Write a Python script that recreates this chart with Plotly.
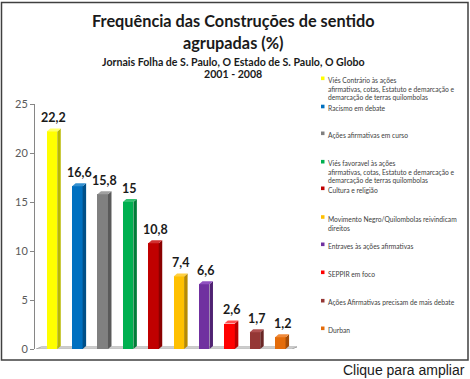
import plotly.graph_objects as go

# ---- data ----
categories = [
    "Viés Contrário às ações\nafirmativas, cotas, Estatuto e demarcação e\ndemarcação de terras quilombolas",
    "Racismo em debate",
    "Ações afirmativas em curso",
    "Viés favoravel às ações\nafirmativas, cotas, Estatuto e demarcação e\ndemarcação de terras quilombolas",
    "Cultura e religião",
    "Movimento Negro/Quilombolas reivindicam\ndireitos",
    "Entraves às ações afirmativas",
    "SEPPIR em foco",
    "Ações Afirmativas precisam de mais debate",
    "Durban",
]
values = [22.2, 16.6, 15.8, 15, 10.8, 7.4, 6.6, 2.6, 1.7, 1.2]
value_labels = ["22,2", "16,6", "15,8", "15", "10,8", "7,4", "6,6", "2,6", "1,7", "1,2"]
y_ticks = [0, 5, 10, 15, 20, 25]

colors = ["#FFFF00", "#0070C0", "#808080", "#00B050", "#C00000",
          "#FFC000", "#7030A0", "#FF0000", "#953735", "#E46C0A"]
side_colors = ["#B8B800", "#004F88", "#5A5A5A", "#007C38", "#8A0000",
               "#B88A00", "#4F2272", "#B80000", "#692625", "#A44C07"]
top_colors = ["#FFFF66", "#3390D0", "#A0A0A0", "#33C070", "#D03030",
              "#FFD040", "#9050C0", "#FF5050", "#B05050", "#F08A3A"]

W, H = 470, 379
L, R, T, B = 35, 173, 104, 30
PW, PH = W - L - R, H - T - B
xmin, xmax = -0.670, 9.657

def px2x(px):
    return (px - L) / PW

def py2y(py):
    return (H - B - py) / PH

xs = list(range(len(values)))
hw = 0.207
DX, DY = 0.138, 0.306

fig = go.Figure()
fig.add_trace(go.Bar(
    x=xs, y=values, width=2 * hw,
    marker=dict(color=colors, line=dict(width=0)),
    showlegend=False, hoverinfo="skip",
))

shapes = []
# floor
shapes.append(dict(type="path", xref="x", yref="y",
                   path=f"M {xmin+0.05},0 L {xmax-0.2},0 L {xmax},{DY*0.7} L {xmin+0.25},{DY*0.7} Z",
                   fillcolor="#E6E6E6", line=dict(color="#A6A6A6", width=1), layer="below"))
for i, v in enumerate(values):
    shapes.append(dict(type="path", xref="x", yref="y",
                       path=f"M {i+hw},0 L {i+hw+DX},{DY} L {i+hw+DX},{v+DY} L {i+hw},{v} Z",
                       fillcolor=side_colors[i], line=dict(width=0)))
    shapes.append(dict(type="path", xref="x", yref="y",
                       path=f"M {i-hw},{v} L {i-hw+DX},{v+DY} L {i+hw+DX},{v+DY} L {i+hw},{v} Z",
                       fillcolor=top_colors[i], line=dict(width=0)))

# frame
shapes.append(dict(type="rect", xref="paper", yref="paper",
                   x0=px2x(1.5), x1=px2x(468), y0=py2y(360), y1=py2y(2.5),
                   line=dict(color="#404040", width=1.5), fillcolor="rgba(0,0,0,0)"))

annotations = []
for i, (v, lab) in enumerate(zip(values, value_labels)):
    annotations.append(dict(x=i + DX / 2, y=v, xref="x", yref="y", text=f"<b>{lab}</b>",
                            showarrow=False, yanchor="middle", yshift=14,
                            font=dict(family="Lato", size=12.5, color="#1a1a1a")))

# titles
title_lines = [
    ("<b>Frequência das Construções de sentido</b>", 20.5, 16.3),
    ("<b>agrupadas (%)</b>", 42, 16.3),
    ("<b>Jornais Folha de S. Paulo, O Estado de S. Paulo, O Globo</b>", 62.5, 10.6),
    ("<b>2001 - 2008</b>", 73.5, 10.6),
]
for txt, py, fs in title_lines:
    annotations.append(dict(x=px2x(233), y=py2y(py), xref="paper", yref="paper", text=txt,
                            showarrow=False, xanchor="center", yanchor="middle",
                            font=dict(family="Lato", size=fs, color="#1a1a1a")))

# legend
legend_y = [78.3, 106.5, 133.3, 161.7, 188.3, 217, 244.3, 272.3, 300.7, 328.3]
for i, cat in enumerate(categories):
    py = legend_y[i]
    shapes.append(dict(type="rect", xref="paper", yref="paper",
                       x0=px2x(321), x1=px2x(324.5), y0=py2y(py + 1.8), y1=py2y(py - 1.8),
                       fillcolor=colors[i], line=dict(width=0)))
    annotations.append(dict(x=px2x(326), y=py2y(py - 4.3), xref="paper", yref="paper",
                            text=cat.replace("\n", "<br>"), showarrow=False,
                            xanchor="left", yanchor="top", align="left",
                            font=dict(family="Lato", size=6.7, color="#404040")))

annotations.append(dict(x=px2x(467), y=py2y(370), xref="paper", yref="paper",
                        text="Clique para ampliar", showarrow=False,
                        xanchor="right", yanchor="middle",
                        font=dict(family="Liberation Sans", size=14, color="#1a1a1a")))

fig.update_layout(
    width=W, height=H,
    margin=dict(l=L, r=R, t=T, b=B, pad=0),
    paper_bgcolor="white", plot_bgcolor="rgba(0,0,0,0)",
    shapes=shapes, annotations=annotations,
    xaxis=dict(range=[xmin, xmax], showticklabels=False, showgrid=False,
               zeroline=False, showline=False, ticks=""),
    yaxis=dict(range=[0, 25], tickvals=y_ticks, showgrid=False, zeroline=False,
               showline=True, linecolor="#868686", linewidth=1,
               ticks="outside", ticklen=4, tickcolor="#868686",
               tickfont=dict(family="Lato", size=11, color="#595959")),
    bargap=0,
)

fig.write_html("out.html", config={"displayModeBar": False},
               post_script="document.body.style.margin='0px';")
